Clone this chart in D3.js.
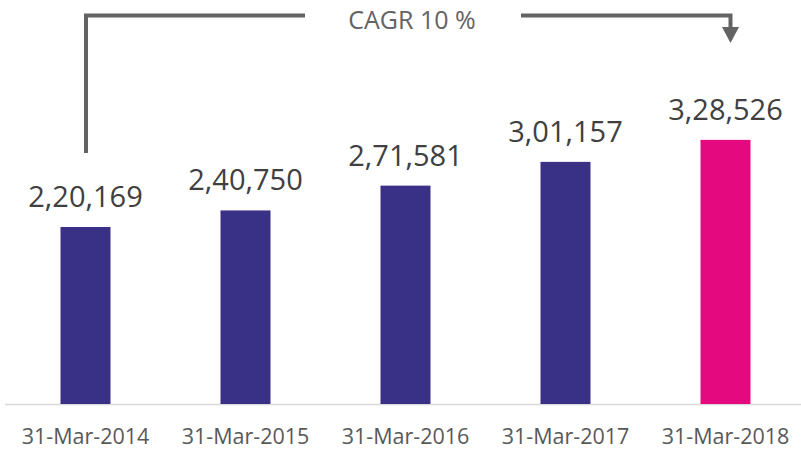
<!DOCTYPE html>
<html lang="en">
    <head>
        <meta charset="utf-8">
        <title>CAGR bar chart</title>
        <script type="text/javascript" src="https://cdn.jsdelivr.net/npm/d3@7"></script>
        <style>
            body { margin: 0; background: #fff; }
        </style>
    </head>
    <body>
        <script type="text/javascript">

            //Width and height
            var w = 801;
            var h = 449;
            var baseline = 404;

            //Data
            var categories = ["31-Mar-2014", "31-Mar-2015", "31-Mar-2016", "31-Mar-2017", "31-Mar-2018"];
            var values = [220169, 240750, 271581, 301157, 328526];
            var valueLabels = ["2,20,169", "2,40,750", "2,71,581", "3,01,157", "3,28,526"];
            var barColors = ["#393185", "#393185", "#393185", "#393185", "#e5097f"];
            var cagrLabel = "CAGR 10 %";

            var dataset = categories.map(function(c, i) {
                return { cat: c, value: values[i], label: valueLabels[i], color: barColors[i] };
            });

            //Scales
            var xScale = d3.scaleBand()
                        .domain(categories)
                        .range([5.5, 805.5])
                        .paddingInner(0.6875)
                        .paddingOuter(0.34375);

            var yScale = d3.scaleLinear()
                        .domain([0, 350000])
                        .range([baseline, baseline - 281.4]);

            //Create SVG element
            var svg = d3.select("body")
                        .append("svg")
                        .attr("width", w)
                        .attr("height", h);

            //Baseline
            svg.append("line")
                .attr("x1", 5)
                .attr("x2", w)
                .attr("y1", baseline + 0.5)
                .attr("y2", baseline + 0.5)
                .attr("stroke", "#d9d9d9")
                .attr("stroke-width", 1.5);

            //Bars
            svg.selectAll("rect.bar")
                .data(dataset)
                .enter()
                .append("rect")
                .attr("class", "bar")
                .attr("x", function(d) { return xScale(d.cat); })
                .attr("y", function(d) { return yScale(d.value); })
                .attr("width", xScale.bandwidth())
                .attr("height", function(d) { return baseline - yScale(d.value); })
                .attr("fill", function(d) { return d.color; });

            //Value labels
            svg.selectAll("text.value")
                .data(dataset)
                .enter()
                .append("text")
                .attr("class", "value")
                .text(function(d) { return d.label; })
                .attr("x", function(d) { return xScale(d.cat) + xScale.bandwidth() / 2; })
                .attr("y", function(d) { return yScale(d.value) - 20; })
                .attr("text-anchor", "middle")
                .attr("font-family", "'Open Sans', sans-serif")
                .attr("font-size", "29px")
                .attr("fill", "#404040");

            //Category labels
            var xAxis = d3.axisBottom(xScale).tickSize(0).tickPadding(0);
            var gx = svg.append("g")
                .attr("transform", "translate(0," + baseline + ")")
                .call(xAxis);
            gx.select(".domain").remove();
            gx.selectAll("text")
                .attr("dy", null)
                .attr("y", 40)
                .attr("font-family", "'Open Sans', sans-serif")
                .attr("font-size", "21.5px")
                .attr("fill", "#595959");

            //CAGR bracket
            var xLeft = xScale(categories[0]) + xScale.bandwidth() / 2 + 0.5;
            var xRight = xScale(categories[categories.length - 1]) + xScale.bandwidth() / 2 + 5;
            var topY = 15.5;

            svg.append("polyline")
                .attr("points", [[xLeft, 153], [xLeft, topY], [305, topY]].join(" "))
                .attr("fill", "none")
                .attr("stroke", "#636363")
                .attr("stroke-width", 4);

            svg.append("polyline")
                .attr("points", [[521, topY], [xRight, topY], [xRight, 29]].join(" "))
                .attr("fill", "none")
                .attr("stroke", "#636363")
                .attr("stroke-width", 4);

            svg.append("path")
                .attr("d", "M" + (xRight - 8.5) + ",27 L" + (xRight + 8.5) + ",27 L" + xRight + ",43 Z")
                .attr("fill", "#636363");

            svg.append("text")
                .text(cagrLabel)
                .attr("x", 412)
                .attr("y", 29)
                .attr("text-anchor", "middle")
                .attr("font-family", "'Open Sans', sans-serif")
                .attr("font-size", "25px")
                .attr("fill", "#636363");

        </script>
    </body>
</html>
